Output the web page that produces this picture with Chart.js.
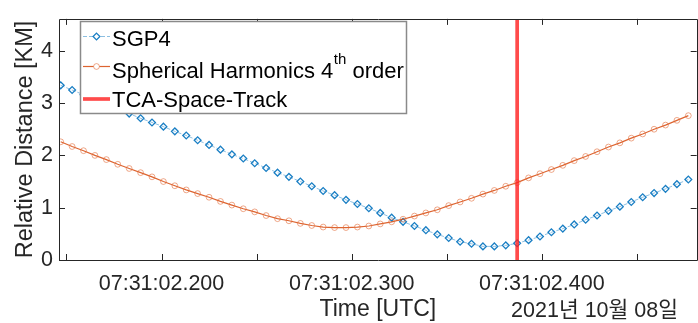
<!DOCTYPE html>
<html>
<head>
<meta charset="utf-8">
<script src="https://cdn.jsdelivr.net/npm/chart.js@4"></script>
<style>
  body { margin: 0; overflow: hidden; background: #fff; }
</style>
</head>
<body>
<canvas id="myChart" width="702" height="323"></canvas>
<script>
// time in ms after 07:31:02 (UTC), 2021-10-08
const times = [
  147, 153, 159, 165, 171, 177, 183, 189, 195, 201,
  207, 213, 219, 225, 231, 237, 243, 249, 255, 261,
  267, 273, 279, 285, 291, 297, 303, 309, 315, 321,
  327, 333, 339, 345, 351, 357, 363, 369, 375, 381,
  387, 393, 399, 405, 411, 417, 423, 429, 435, 441,
  447, 453, 459, 465, 471, 477
];

const sgp4 = [
  3.34, 3.25, 3.16, 3.07, 2.98, 2.89, 2.80, 2.71, 2.63, 2.55,
  2.46, 2.38, 2.29, 2.20, 2.11, 2.02, 1.94, 1.85, 1.76, 1.67,
  1.59, 1.50, 1.41, 1.32, 1.24, 1.15, 1.07, 0.99, 0.90, 0.81,
  0.73, 0.65, 0.57, 0.49, 0.42, 0.35, 0.31, 0.26, 0.26, 0.28,
  0.32, 0.38, 0.45, 0.53, 0.60, 0.68, 0.77, 0.85, 0.94, 1.02,
  1.11, 1.20, 1.28, 1.36, 1.45, 1.54
];

const harmonics4 = [
  2.26, 2.17, 2.09, 2.00, 1.92, 1.83, 1.75, 1.67, 1.59, 1.50,
  1.42, 1.34, 1.27, 1.20, 1.12, 1.05, 0.98, 0.92, 0.85, 0.79,
  0.75, 0.70, 0.66, 0.63, 0.62, 0.62, 0.63, 0.65, 0.69, 0.73,
  0.78, 0.84, 0.90, 0.96, 1.04, 1.11, 1.18, 1.26, 1.33, 1.41,
  1.48, 1.57, 1.65, 1.73, 1.81, 1.90, 1.98, 2.07, 2.16, 2.24,
  2.33, 2.41, 2.50, 2.58, 2.67, 2.76
];

// TCA from space-track: vertical line
const tcaTime = [387, 387];
const tcaValue = [0, 4.61];

const xTickValues = [150, 200, 250, 300, 350, 400, 450];
const xTickLabels = ['', '07:31:02.200', '', '07:31:02.300', '', '07:31:02.400', ''];
const yTickValues = [0, 1, 2, 3, 4];
const dateLabel = '2021년 10월 08일';

const FONT = '"Liberation Sans", Arial, "Noto Sans CJK KR", sans-serif';
const AXIS_COLOR = '#262626';

function pts(xs, ys) {
  return xs.map((v, i) => ({x: v, y: ys[i]}));
}

// axes box with inward tick marks, MATLAB style
const boxPlugin = {
  id: 'boxPlugin',
  afterDraw(chart) {
    const ctx = chart.ctx;
    const a = chart.chartArea;
    const x = chart.scales.x, y = chart.scales.y;
    ctx.save();
    ctx.strokeStyle = AXIS_COLOR;
    ctx.lineWidth = 1;
    ctx.beginPath();
    xTickValues.forEach(v => {
      const px = Math.round(x.getPixelForValue(v)) + 0.5;
      ctx.moveTo(px, a.bottom); ctx.lineTo(px, a.bottom - 6);
      ctx.moveTo(px, a.top); ctx.lineTo(px, a.top + 6);
    });
    yTickValues.forEach(v => {
      const py = Math.round(y.getPixelForValue(v)) + 0.5;
      ctx.moveTo(a.left, py); ctx.lineTo(a.left + 6, py);
      ctx.moveTo(a.right, py); ctx.lineTo(a.right - 6, py);
    });
    ctx.stroke();
    ctx.beginPath();
    ctx.rect(Math.round(a.left) + 0.5, Math.round(a.top) + 0.5,
             Math.round(a.width), Math.round(a.height));
    ctx.stroke();

    // date under the axis
    ctx.fillStyle = AXIS_COLOR;
    ctx.font = '21.5px ' + FONT;
    ctx.textAlign = 'right';
    ctx.textBaseline = 'alphabetic';
    ctx.fillText(dateLabel, 678, 317);

    // legend
    const lx = 80.5, ly = 21.5, lw = 326, lh = 92;
    ctx.fillStyle = '#fff';
    ctx.fillRect(lx, ly, lw, lh);
    ctx.strokeStyle = '#8a8a8a';
    ctx.lineWidth = 1.5;
    ctx.strokeRect(lx, ly, lw, lh);

    const rows = [36.5, 66.5, 99];
    const bases = [45.5, 78, 107];
    chart.data.datasets.forEach((ds, i) => {
      const yy = rows[i];
      ctx.save();
      ctx.strokeStyle = ds.borderColor;
      ctx.lineWidth = ds.borderWidth;
      ctx.setLineDash(ds.borderDash || []);
      ctx.beginPath();
      ctx.moveTo(83, yy); ctx.lineTo(110, yy);
      ctx.stroke();
      ctx.setLineDash([]);
      if (ds.pointRadius > 0) {
        ctx.lineWidth = ds.pointBorderWidth;
        ctx.strokeStyle = ds.pointBorderColor;
        ctx.fillStyle = '#fff';
        ctx.beginPath();
        if (ds.pointStyle === 'rectRot') {
          const r = ds.pointRadius;
          ctx.moveTo(96.5, yy - r); ctx.lineTo(96.5 + r, yy);
          ctx.lineTo(96.5, yy + r); ctx.lineTo(96.5 - r, yy); ctx.closePath();
        } else {
          ctx.arc(96.5, yy, ds.pointRadius, 0, Math.PI * 2);
        }
        ctx.fill();
        ctx.stroke();
      }
      ctx.restore();

      // label, with ^{...} as superscript
      ctx.fillStyle = '#000';
      ctx.textAlign = 'left';
      ctx.textBaseline = 'alphabetic';
      let tx = 112;
      const parts = ds.label.split(/(\^\{[^}]*\})/);
      parts.forEach(p => {
        if (!p) return;
        if (p.startsWith('^{')) {
          const s = p.slice(2, -1);
          ctx.font = '15px ' + FONT;
          ctx.fillText(s, tx + 0.5, bases[i] - 14);
          tx += ctx.measureText(s).width + 0.5;
        } else {
          ctx.font = '22px ' + FONT;
          ctx.fillText(p, tx, bases[i]);
          tx += ctx.measureText(p).width;
        }
      });
    });
    ctx.restore();
  }
};

const data = {
  datasets: [{
    label: 'SGP4',
    data: pts(times, sgp4),
    borderColor: 'rgba(0,114,189,0.45)',
    borderWidth: 1,
    borderDash: [4, 2],
    pointStyle: 'rectRot',
    pointRadius: 3.4,
    pointBorderWidth: 1.3,
    pointBorderColor: '#1a7fc4',
    pointBackgroundColor: 'rgba(255,255,255,0)',
    order: 2
  }, {
    label: 'Spherical Harmonics 4^{th} order',
    data: pts(times, harmonics4),
    borderColor: 'rgba(217,83,25,0.9)',
    borderWidth: 1.2,
    pointStyle: 'circle',
    pointRadius: 2.9,
    pointBorderWidth: 1,
    pointBorderColor: 'rgba(226,110,60,0.6)',
    pointBackgroundColor: 'rgba(255,255,255,0)',
    order: 1
  }, {
    label: 'TCA-Space-Track',
    data: pts(tcaTime, tcaValue),
    borderColor: 'rgba(255,30,30,0.8)',
    borderWidth: 3.7,
    pointRadius: 0,
    order: 0
  }]
};

const config = {
  type: 'line',
  data: data,
  plugins: [boxPlugin],
  options: {
    responsive: false,
    devicePixelRatio: 1,
    animation: false,
    layout: { padding: { top: 8, right: 2, left: 0, bottom: 0 } },
    plugins: { legend: { display: false }, tooltip: { enabled: false } },
    elements: { line: { tension: 0 } },
    scales: {
      x: {
        type: 'linear',
        min: 146.1,
        max: 481.4,
        afterFit: s => { s.height = 63; },
        afterBuildTicks: s => { s.ticks = xTickValues.map(v => ({value: v})); },
        grid: { display: false, drawTicks: false },
        border: { display: false },
        ticks: {
          autoSkip: false,
          maxRotation: 0,
          padding: 11,
          color: AXIS_COLOR,
          font: { family: FONT, size: 21.5 },
          callback: (v) => xTickLabels[xTickValues.indexOf(Math.round(v))] || ''
        },
        title: {
          display: true,
          text: 'Time [UTC]',
          color: AXIS_COLOR,
          font: { family: FONT, size: 23 },
          padding: { top: 0, bottom: 0 }
        }
      },
      y: {
        min: 0,
        max: 4.61,
        afterFit: s => { s.width = 59; },
        afterBuildTicks: s => { s.ticks = yTickValues.map(v => ({value: v})); },
        grid: { display: false, drawTicks: false },
        border: { display: false },
        ticks: {
          padding: 6,
          color: AXIS_COLOR,
          font: { family: FONT, size: 21.5 },
          callback: v => String(v)
        },
        title: {
          display: true,
          text: 'Relative Distance [KM]',
          color: AXIS_COLOR,
          font: { family: FONT, size: 23.5 },
          padding: { top: 11, bottom: 0 }
        }
      }
    }
  }
};

const myChart = new Chart(document.getElementById('myChart'), config);
</script>
</body>
</html>
